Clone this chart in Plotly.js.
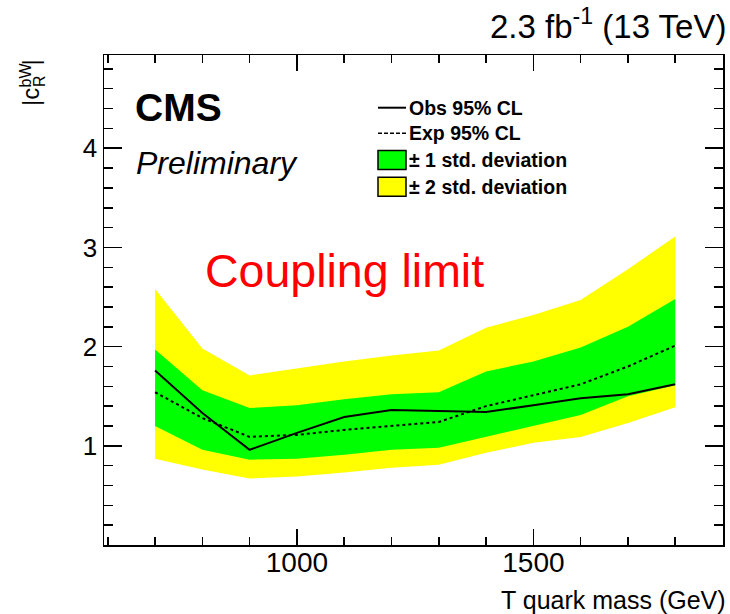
<!DOCTYPE html>
<html>
<head>
<meta charset="utf-8">
<script src="https://cdn.plot.ly/plotly-3.0.1.min.js"></script>
<style>html,body{margin:0;padding:0;background:#fff;}#plot{width:730px;height:614px;}</style>
</head>
<body>
<div id="plot"></div>
<script>
// ---- data ----
var mass = [700, 800, 900, 1000, 1100, 1200, 1300, 1400, 1500, 1600, 1700, 1800];
var obsLimit = [1.76, 1.33, 0.96, 1.13, 1.29, 1.36, 1.35, 1.34, 1.41, 1.48, 1.52, 1.62];
var expLimit = [1.54, 1.28, 1.09, 1.11, 1.16, 1.20, 1.24, 1.40, 1.51, 1.62, 1.80, 2.01];
var up1Sigma = [1.97, 1.56, 1.38, 1.41, 1.47, 1.52, 1.54, 1.75, 1.85, 1.99, 2.20, 2.48];
var dn1Sigma = [1.20, 0.96, 0.86, 0.87, 0.91, 0.96, 0.98, 1.09, 1.20, 1.31, 1.50, 1.61];
var up2Sigma = [2.58, 1.98, 1.71, 1.78, 1.85, 1.91, 1.96, 2.19, 2.32, 2.47, 2.78, 3.11];
var dn2Sigma = [0.87, 0.76, 0.67, 0.69, 0.73, 0.78, 0.81, 0.93, 1.03, 1.09, 1.23, 1.39];
var yTickVals = [1, 2, 3, 4];
var legendLabels = ["Obs 95% CL", "Exp 95% CL", "\u00b1 1 std. deviation", "\u00b1 2 std. deviation"];

// ---- layout helpers (pixel -> paper) ----
var L = 104, R = 723, T = 55, B = 545;
function X(px) { return (px - L) / (R - L); }
function Y(py) { return (B - py) / (B - T); }

function band(up, dn) {
  return {
    x: mass.concat(mass.slice().reverse()),
    y: up.concat(dn.slice().reverse())
  };
}
var b2 = band(up2Sigma, dn2Sigma);
var b1 = band(up1Sigma, dn1Sigma);

var traces = [
  {x: b2.x, y: b2.y, type: 'scatter', mode: 'lines', fill: 'toself',
   fillcolor: '#ffff00', line: {width: 0, color: '#ffff00'}, hoverinfo: 'skip'},
  {x: b1.x, y: b1.y, type: 'scatter', mode: 'lines', fill: 'toself',
   fillcolor: '#00ff00', line: {width: 0, color: '#00ff00'}, hoverinfo: 'skip'},
  {x: mass, y: expLimit, type: 'scatter', mode: 'lines',
   line: {color: '#000', width: 2, dash: 'dot'}},
  {x: mass, y: obsLimit, type: 'scatter', mode: 'lines',
   line: {color: '#000', width: 2}}
];

var FONT = 'Liberation Sans, Arial, Helvetica, sans-serif';
var rows = [107.7, 133.3, 160, 186.7];

var annotations = [
  {text: '2.3 fb<sup>-1</sup> (13 TeV)', x: X(728), y: Y(24), xanchor: 'right', yanchor: 'middle',
   font: {size: 33, color: '#000', family: FONT}},
  {text: '<b>CMS</b>', x: X(133), y: Y(108), xanchor: 'left', yanchor: 'middle',
   font: {size: 39, color: '#000', family: FONT}},
  {text: '<i>Preliminary</i>', x: X(134), y: Y(163), xanchor: 'left', yanchor: 'middle',
   font: {size: 32, color: '#000', family: FONT}},
  {text: 'Coupling limit', x: X(203), y: Y(271), xanchor: 'left', yanchor: 'middle',
   font: {size: 46.5, color: '#ff0000', family: FONT}},
  {text: 'T quark mass (GeV)', x: X(728), y: Y(600), xanchor: 'right', yanchor: 'middle',
   font: {size: 25, color: '#000', family: FONT}},
  // y-axis title |c^{bW}_{R}| with stacked super/subscript
  {text: '|c', x: X(30), y: Y(97), xanchor: 'center', yanchor: 'middle',
   textangle: -90, font: {size: 24, color: '#000', family: FONT}},
  {text: 'bW', x: X(24.5), y: Y(75), xanchor: 'center', yanchor: 'middle',
   textangle: -90, font: {size: 16, color: '#000', family: FONT}},
  {text: 'R', x: X(39.5), y: Y(81.5), xanchor: 'center', yanchor: 'middle',
   textangle: -90, font: {size: 16, color: '#000', family: FONT}},
  {text: '|', x: X(30), y: Y(62.5), xanchor: 'center', yanchor: 'middle',
   textangle: -90, font: {size: 24, color: '#000', family: FONT}}
];
legendLabels.forEach(function (t, i) {
  annotations.push({text: '<b>' + t + '</b>', x: X(407), y: Y(rows[i]), xanchor: 'left', yanchor: 'middle',
    font: {size: 19.5, color: '#000', family: FONT}});
});
annotations.forEach(function (a) { a.xref = 'paper'; a.yref = 'paper'; a.showarrow = false; });

var shapes = [
  {type: 'line', x0: X(378), x1: X(406), y0: Y(rows[0]), y1: Y(rows[0]), line: {color: '#000', width: 2}},
  {type: 'line', x0: X(378), x1: X(406), y0: Y(rows[1]), y1: Y(rows[1]), line: {color: '#000', width: 1.5, dash: '4px,2px'}},
  {type: 'rect', x0: X(378), x1: X(406), y0: Y(rows[2] - 9.5), y1: Y(rows[2] + 9.5), fillcolor: '#00ff00', line: {color: '#000', width: 1.5}},
  {type: 'rect', x0: X(378), x1: X(406), y0: Y(rows[3] - 9.5), y1: Y(rows[3] + 9.5), fillcolor: '#ffff00', line: {color: '#000', width: 1.5}}
];
shapes.forEach(function (s) { s.xref = 'paper'; s.yref = 'paper'; });

var layout = {
  width: 730, height: 614,
  margin: {l: L, r: 730 - R, t: T, b: 614 - B},
  paper_bgcolor: '#fff', plot_bgcolor: '#fff',
  showlegend: false,
  font: {family: FONT, color: '#000'},
  xaxis: {
    range: [592, 1901], showgrid: false, zeroline: false,
    showline: true, linecolor: '#000', linewidth: 1.5, mirror: 'allticks',
    ticks: 'inside', ticklen: 16, tickwidth: 1.5, tickcolor: '#000',
    tick0: 0, dtick: 500, ticklabelstandoff: -8,
    tickfont: {size: 28, family: FONT, color: '#000'},
    minor: {ticks: 'inside', ticklen: 8, tickwidth: 1.5, tickcolor: '#000', tick0: 0, dtick: 100, showgrid: false}
  },
  yaxis: {
    range: [0, 4.94], showgrid: false, zeroline: false,
    showline: true, linecolor: '#000', linewidth: 1.5, mirror: 'allticks',
    ticks: 'inside', ticklen: 18, tickwidth: 1.5, tickcolor: '#000',
    tickmode: 'array', tickvals: yTickVals,
    tickfont: {size: 26, family: FONT, color: '#000'},
    minor: {ticks: 'inside', ticklen: 9, tickwidth: 1.5, tickcolor: '#000', tickmode: 'linear', tick0: 0, dtick: 0.2, showgrid: false}
  },
  annotations: annotations,
  shapes: shapes
};

Plotly.newPlot('plot', traces, layout, {displayModeBar: false, staticPlot: true});
</script>
</body>
</html>
